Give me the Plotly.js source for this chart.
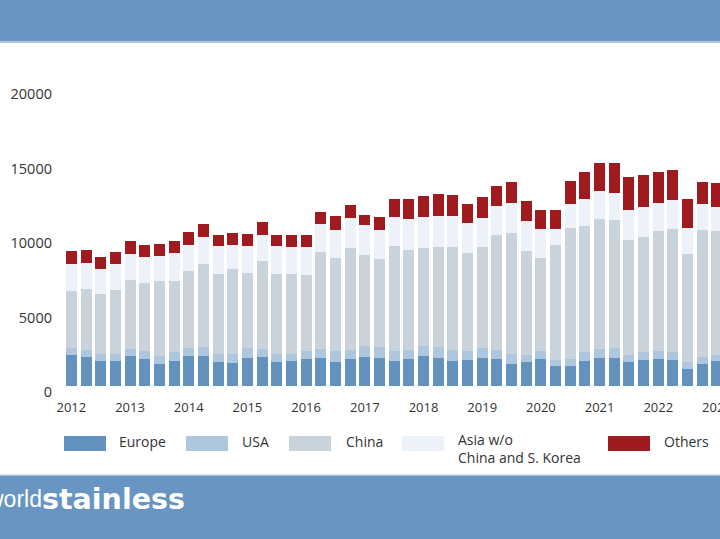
<!DOCTYPE html>
<html>
<head>
<meta charset="utf-8">
<script src="https://cdn.plot.ly/plotly-3.0.1.min.js"></script>
<style>
html,body{margin:0;padding:0;overflow:hidden;background:#fff;width:720px;height:539px;}
#chart{width:800px;height:539px;}
</style>
</head>
<body>
<div id="chart"></div>
<script>
// Quarterly categories
const quarters = [
 '2012 Q1','2012 Q2','2012 Q3','2012 Q4',
 '2013 Q1','2013 Q2','2013 Q3','2013 Q4',
 '2014 Q1','2014 Q2','2014 Q3','2014 Q4',
 '2015 Q1','2015 Q2','2015 Q3','2015 Q4',
 '2016 Q1','2016 Q2','2016 Q3','2016 Q4',
 '2017 Q1','2017 Q2','2017 Q3','2017 Q4',
 '2018 Q1','2018 Q2','2018 Q3','2018 Q4',
 '2019 Q1','2019 Q2','2019 Q3','2019 Q4',
 '2020 Q1','2020 Q2','2020 Q3','2020 Q4',
 '2021 Q1','2021 Q2','2021 Q3','2021 Q4',
 '2022 Q1','2022 Q2','2022 Q3','2022 Q4',
 '2023 Q1'
];
const yearTickVals = ['2012 Q1','2013 Q1','2014 Q1','2015 Q1','2016 Q1','2017 Q1','2018 Q1','2019 Q1','2020 Q1','2021 Q1','2022 Q1','2023 Q1'];
const yearTickText = ['2012','2013','2014','2015','2016','2017','2018','2019','2020','2021','2022','2023'];

// Series values (thousand tonnes)
const europe = [2094,1960,1647,1691,2027,1826,1490,1714,2027,2005,1602,1535,
                1893,1938,1580,1669,1826,1893,1624,1804,1960,1893,1647,1804,
                1983,1893,1691,1736,1870,1804,1468,1580,1804,1333,1378,1691,
                1893,1893,1580,1759,1826,1736,1154,1490,1647];
const usa    = [493,471,515,471,493,515,515,538,560,605,582,627,
                694,582,582,493,560,627,695,627,762,717,672,627,
                739,717,740,628,717,627,672,537,582,448,448,561,
                605,650,514,537,560,538,470,448,447];
const china  = [3786,4099,4010,4301,4592,4592,5040,4838,5130,5622,5376,5712,
                5018,5869,5398,5376,5107,6474,6294,6877,6093,5936,7078,6720,
                6541,6720,6899,6585,6743,7728,8176,6944,6250,7706,8781,8512,
                8736,8601,7729,7728,8019,8310,7258,8534,8311];
const asia   = [1837,1725,1702,1747,1792,1725,1725,1837,1792,1815,1837,1635,
                1837,1770,1837,1814,1859,1882,1904,1971,1993,1949,1994,2083,
                2083,2083,2083,1994,1949,1948,1971,2039,1926,1075,1635,1836,
                1882,1837,2038,2016,1927,1949,1770,1770,1635];
const others = [896,896,806,806,829,806,806,851,851,873,784,762,
                784,851,784,807,807,851,896,896,695,851,1165,1322,
                1434,1479,1434,1321,1433,1322,1411,1321,1299,1277,1523,1770,
                1904,2039,2195,2173,2038,2016,1948,1456,1613];

const seriesNames = ['Europe','USA','China','Asia w/o<br>China and S. Korea','Others'];
const seriesColors = ['#6492bf','#afc7de','#c8d3dc','#edf2f8','#a01b20'];
const seriesData = [europe, usa, china, asia, others];

const traces = seriesData.map((vals, i) => ({
  type: 'bar',
  x: quarters,
  y: vals,
  name: seriesNames[i],
  marker: {color: seriesColors[i], line: {width: 0}},
  showlegend: false,
  hoverinfo: 'x+y+name'
}));

// layout geometry helpers (pixel -> paper)
const W = 800, H = 539;
const M = {l: 64, r: 17, t: 60, b: 153};
const PW = W - M.l - M.r, PH = H - M.t - M.b;
const px = v => (v - M.l) / PW;
const py = v => (H - M.b - v) / PH;

const band = '#6895c1';
const bandLine = '#a9c3dd';
const shapes = [
  {type:'rect', xref:'paper', yref:'paper', x0:px(-10), x1:px(810), y0:py(41.5), y1:py(-5), fillcolor:band, line:{width:0}, layer:'below'},
  {type:'rect', xref:'paper', yref:'paper', x0:px(-10), x1:px(810), y0:py(43), y1:py(41.5), fillcolor:bandLine, line:{width:0}, layer:'below'},
  {type:'rect', xref:'paper', yref:'paper', x0:px(-10), x1:px(810), y0:py(545), y1:py(476), fillcolor:band, line:{width:0}, layer:'below'},
  {type:'rect', xref:'paper', yref:'paper', x0:px(-10), x1:px(810), y0:py(476), y1:py(474.5), fillcolor:bandLine, line:{width:0}, layer:'below'}
];

// custom legend
const legendSwatchX = [64, 186, 289, 402, 608];
const legendTextX = [117, 240, 344, 456, 662];
const annotations = [];
seriesNames.forEach((n, i) => {
  shapes.push({type:'rect', xref:'paper', yref:'paper', x0:px(legendSwatchX[i]), x1:px(legendSwatchX[i]+42),
    y0:py(451), y1:py(436), fillcolor:seriesColors[i], line:{width:0}});
  annotations.push({xref:'paper', yref:'paper', x:px(legendTextX[i]), y:py(i===3 ? 428 : 441),
    xanchor:'left', yanchor: i===3 ? 'top' : 'middle', showarrow:false, align:'left',
    text:n, font:{family:'Open Sans, sans-serif', size:14, color:'#333'}});
});

// logo
annotations.push({xref:'paper', yref:'paper', x:px(44), y:py(499), xanchor:'right', yanchor:'middle', showarrow:false,
  text:'world', font:{family:'Liberation Sans, sans-serif', size:23, color:'#ffffff'}});
annotations.push({xref:'paper', yref:'paper', x:px(40), y:py(499), xanchor:'left', yanchor:'middle', showarrow:false,
  text:'stainless', font:{family:'DejaVu Sans, sans-serif', size:28.5, color:'#ffffff', weight:700}});

const layout = {
  width: W, height: H,
  margin: M,
  barmode: 'stack',
  bargap: 0.25,
  paper_bgcolor: '#ffffff',
  plot_bgcolor: 'rgba(0,0,0,0)',
  font: {family: 'Open Sans, sans-serif', color: '#333'},
  xaxis: {
    type: 'category',
    range: [-0.5, 48.5],
    tickvals: yearTickVals,
    ticktext: yearTickText,
    showgrid: false, zeroline: false, showline: false, ticks: '',
    tickfont: {size: 13, color: '#333'},
    ticklabelstandoff: 12
  },
  yaxis: {
    range: [0, PH / 74.4 * 5000],
    tickvals: [0, 5000, 10000, 15000, 20000],
    ticktext: ['0','5000','10000','15000','20000'],
    showgrid: false, zeroline: false, showline: false, ticks: '',
    tickfont: {size: 14.5, color: '#333'},
    ticklabelshift: 6,
    ticklabelstandoff: 11
  },
  shapes: shapes,
  annotations: annotations
};

Plotly.newPlot('chart', traces, layout, {displayModeBar: false, staticPlot: true});
</script>
</body>
</html>
